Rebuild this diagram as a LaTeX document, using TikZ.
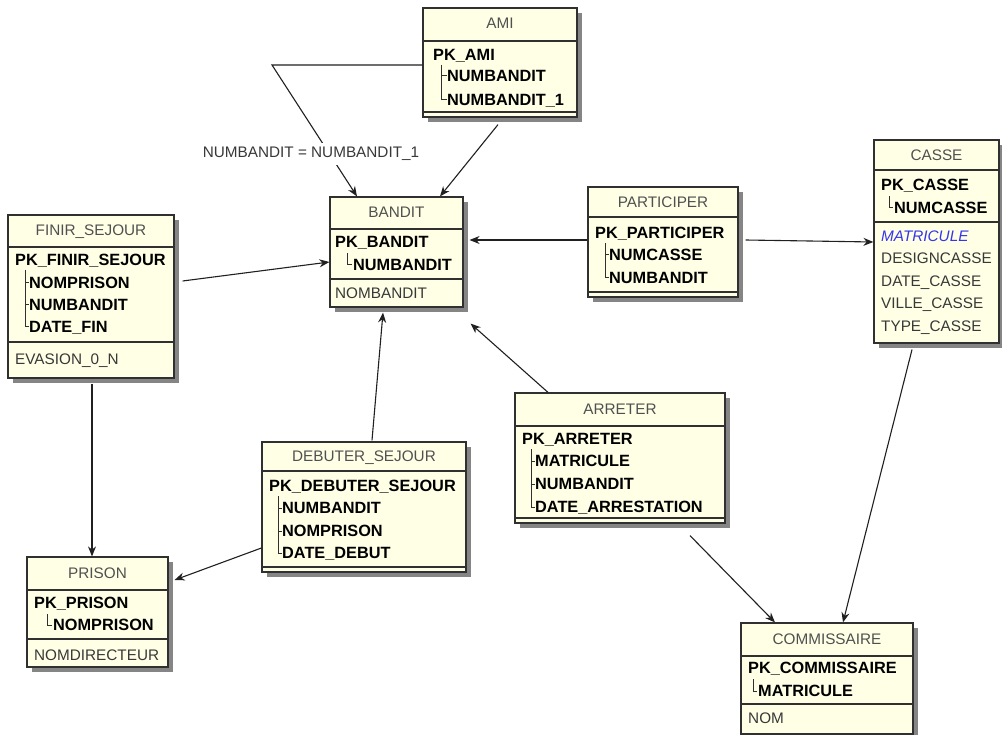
\documentclass[tikz,border=0pt]{standalone}
\usepackage{fontspec}
\setmainfont{Liberation Sans}
\usetikzlibrary{arrows.meta,shadows,calc}
\definecolor{cream}{HTML}{FFFFE6}
\definecolor{boxline}{HTML}{303030}
\definecolor{shadowgray}{HTML}{858585}
\definecolor{titlegray}{HTML}{505050}
\definecolor{attgray}{HTML}{383838}
\definecolor{linkgray}{HTML}{202020}
\definecolor{fkblue}{HTML}{3535F0}
\newcommand\fsreg{\fontsize{15.3}{18}\selectfont}
\newcommand\fsbold{\fontsize{16.3}{18}\selectfont\bfseries}
\tikzset{
  tbl/.style={draw=boxline, fill=cream, line width=1.2pt, rectangle, inner sep=0pt,
    drop shadow={shadow xshift=5pt, shadow yshift=-5pt, fill=shadowgray, opacity=1}},
  sepl/.style={draw=boxline, line width=1.2pt},
  tree/.style={draw=boxline, line width=1pt},
  ttl/.style={text=titlegray, font=\fsreg, anchor=base, inner sep=0pt},
  keyt/.style={text=black, font=\fsbold, anchor=base west, inner sep=0pt},
  attt/.style={text=attgray, font=\fsreg, anchor=base west, inner sep=0pt},
  fkt/.style={text=fkblue, font=\fsreg\itshape, anchor=base west, inner sep=0pt},
  conn/.style={draw=linkgray, line width=1.1pt, -{Stealth[length=10pt,width=8pt]}},
  lbl/.style={text=attgray, font=\fsreg, fill=white, inner sep=4pt}
}
\begin{document}
\begin{tikzpicture}[x=1pt,y=-1pt]
\useasboundingbox[fill=white] (0,0) rectangle (1002,735);

% ---------- AMI ----------
\node[tbl, minimum width=154, minimum height=109] (ami) at (500,62.5) {};
\draw[sepl] (423,41) -- (577,41);
\draw[sepl] (423,112) -- (577,112);
\node[ttl] (amiT) at (500,29) {AMI};
\node[keyt] (amiK) at (433,60.5) {PK\_AMI};
\draw[tree] (441,65) -- (441,100) -- (447,100);
\draw[tree] (441,76) -- (447,76);
\node[keyt] (amiA) at (447,81.5) {NUMBANDIT};
\node[keyt] (amiB) at (447,105.5) {NUMBANDIT\_1};

% ---------- FINIR_SEJOUR ----------
\node[tbl, minimum width=166, minimum height=163] (fin) at (91,296.5) {};
\draw[sepl] (8,247) -- (174,247);
\draw[sepl] (8,342) -- (174,342);
\node[ttl] (finT) at (91,236) {FINIR\_SEJOUR};
\node[keyt] (finK) at (15,265.5) {PK\_FINIR\_SEJOUR};
\draw[tree] (25,270) -- (25,327) -- (29,327);
\draw[tree] (25,283) -- (29,283);
\draw[tree] (25,305) -- (29,305);
\node[keyt] (finA) at (29,288.5) {NOMPRISON};
\node[keyt] (finB) at (29,310.5) {NUMBANDIT};
\node[keyt] (finC) at (29,332.5) {DATE\_FIN};
\node[attt] (finD) at (15,364.5) {EVASION\_0\_N};

% ---------- BANDIT ----------
\node[tbl, minimum width=133, minimum height=110] (bandit) at (396.5,252) {};
\draw[sepl] (330,229) -- (463,229);
\draw[sepl] (330,279) -- (463,279);
\node[ttl] (banT) at (396.5,218) {BANDIT};
\node[keyt] (banK) at (335,247.5) {PK\_BANDIT};
\draw[tree] (347,253) -- (347,265) -- (352,265);
\node[keyt] (banA) at (353,270.5) {NUMBANDIT};
\node[attt] (banB) at (335,298.5) {NOMBANDIT};

% ---------- PARTICIPER ----------
\node[tbl, minimum width=150, minimum height=110] (part) at (663,242) {};
\draw[sepl] (588,217) -- (738,217);
\draw[sepl] (588,292) -- (738,292);
\node[ttl] (parT) at (663,207.5) {PARTICIPER};
\node[keyt] (parK) at (595,238.5) {PK\_PARTICIPER};
\draw[tree] (605,243) -- (605,278) -- (609,278);
\draw[tree] (605,255) -- (609,255);
\node[keyt] (parA) at (609,260.5) {NUMCASSE};
\node[keyt] (parB) at (609,283.5) {NUMBANDIT};

% ---------- CASSE ----------
\node[tbl, minimum width=125, minimum height=203] (casse) at (936.5,241.5) {};
\draw[sepl] (874,170) -- (999,170);
\draw[sepl] (874,222) -- (999,222);
\node[ttl] (casT) at (936.5,161) {CASSE};
\node[keyt] (casK) at (881,190.5) {PK\_CASSE};
\draw[tree] (889,196) -- (889,208) -- (893,208);
\node[keyt] (casA) at (894,213.5) {NUMCASSE};
\node[fkt] (casB) at (881,241.5) {MATRICULE};
\node[attt] (casC) at (881,263.5) {DESIGNCASSE};
\node[attt] (casD) at (881,286.5) {DATE\_CASSE};
\node[attt] (casE) at (881,308.5) {VILLE\_CASSE};
\node[attt] (casF) at (881,332) {TYPE\_CASSE};

% ---------- DEBUTER_SEJOUR ----------
\node[tbl, minimum width=204, minimum height=130] (deb) at (364,507) {};
\draw[sepl] (262,471) -- (466,471);
\draw[sepl] (262,567) -- (466,567);
\node[ttl] (debT) at (364,461.5) {DEBUTER\_SEJOUR};
\node[keyt] (debK) at (269,491.5) {PK\_DEBUTER\_SEJOUR};
\draw[tree] (278,496) -- (278,553) -- (282,553);
\draw[tree] (278,508) -- (282,508);
\draw[tree] (278,531) -- (282,531);
\node[keyt] (debA) at (282,513.5) {NUMBANDIT};
\node[keyt] (debB) at (282,536.5) {NOMPRISON};
\node[keyt] (debC) at (282,558.5) {DATE\_DEBUT};

% ---------- ARRETER ----------
\node[tbl, minimum width=210, minimum height=130] (arr) at (620,458) {};
\draw[sepl] (515,426) -- (725,426);
\draw[sepl] (515,518) -- (725,518);
\node[ttl] (arrT) at (620,414.5) {ARRETER};
\node[keyt] (arrK) at (522,444.5) {PK\_ARRETER};
\draw[tree] (531,449) -- (531,507) -- (535,507);
\draw[tree] (531,461) -- (535,461);
\draw[tree] (531,484) -- (535,484);
\node[keyt] (arrA) at (535,466.5) {MATRICULE};
\node[keyt] (arrB) at (535,489.5) {NUMBANDIT};
\node[keyt] (arrC) at (535,512.5) {DATE\_ARRESTATION};

% ---------- PRISON ----------
\node[tbl, minimum width=141, minimum height=110] (prison) at (97.5,612) {};
\draw[sepl] (27,590) -- (168,590);
\draw[sepl] (27,639) -- (168,639);
\node[ttl] (priT) at (97.5,578.5) {PRISON};
\node[keyt] (priK) at (34,608.5) {PK\_PRISON};
\draw[tree] (47,614) -- (47,625) -- (52,625);
\node[keyt] (priA) at (53,630.5) {NOMPRISON};
\node[attt] (priB) at (34,660.5) {NOMDIRECTEUR};

% ---------- COMMISSAIRE ----------
\node[tbl, minimum width=172, minimum height=111] (comm) at (827,678.5) {};
\draw[sepl] (741,656) -- (913,656);
\draw[sepl] (741,704) -- (913,704);
\node[ttl] (comT) at (827,644.5) {COMMISSAIRE};
\node[keyt] (comK) at (748,673.5) {PK\_COMMISSAIRE};
\draw[tree] (753,679) -- (753,691) -- (757,691);
\node[keyt] (comA) at (758,696.5) {MATRICULE};
\node[attt] (comB) at (748,723.5) {NOM};

% ---------- connectors ----------
\coordinate (bend) at (272,65);
\draw[conn] ($(ami.west)+(0,2.5)$) -- (bend) -- ($(bandit.north)+(-39.5,0)$);
\node[lbl] (reflbl) at (311,154) {NUMBANDIT = NUMBANDIT\_1};
\draw[conn] ($(ami.south)+(-2,7)$) -- ($(bandit.north)+(43.5,0)$);
\draw[conn] ($(fin.east)+(8,-15.5)$) -- ($(bandit.west)+(0,10)$);
\draw[conn] ($(part.west)+(0,-2)$) -- ($(bandit.east)+(6,-12)$);
\draw[conn] ($(part.east)+(7,-2)$) -- ($(casse.west)+(0,0.5)$);
\draw[conn] ($(fin.south)+(1,5)$) -- ($(prison.north)+(-5.5,0)$);
\draw[conn] ($(deb.north)+(8,-1)$) -- ($(bandit.south)+(-13.5,5)$);
\draw[conn] ($(deb.west)+(0,41)$) -- ($(prison.east)+(6,-32)$);
\draw[conn] ($(arr.north)+(-72,0)$) -- ($(bandit.south east)+(7,16)$);
\draw[conn] ($(arr.south)+(70,12)$) -- ($(comm.north)+(-52,0)$);
\draw[conn] ($(casse.south)+(-24.5,6)$) -- ($(comm.north)+(16,0)$);
\end{tikzpicture}
\end{document}
